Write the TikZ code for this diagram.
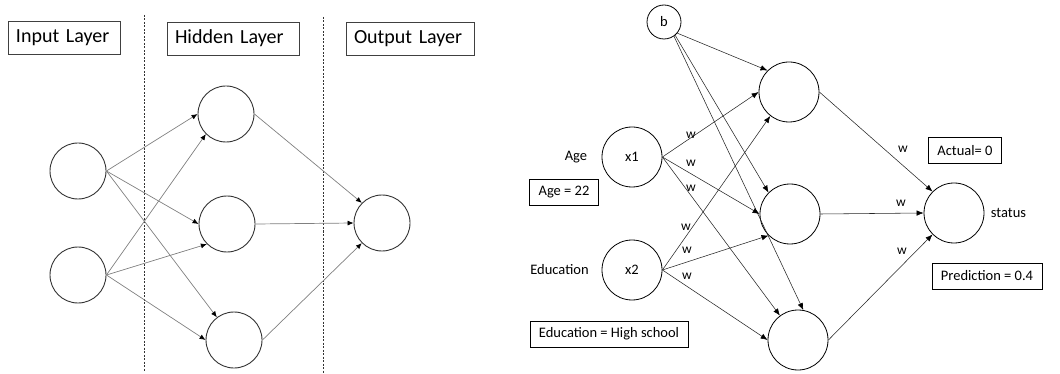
\documentclass[tikz,border=0pt]{standalone}
\usepackage{fontspec}
\setmainfont{Carlito}
\usetikzlibrary{arrows.meta}
\begin{document}
\begin{tikzpicture}[x=1pt,y=-1pt,
  neuron/.style={circle,draw=black!80,line width=0.9pt,minimum size=56pt,inner sep=0pt},
  unit/.style={circle,draw=black,line width=0.8pt,minimum size=60pt,inner sep=0pt,font=\fontsize{14.5}{16}\selectfont},
  bias/.style={circle,draw=black,line width=0.8pt,minimum size=34pt,inner sep=0pt,font=\fontsize{14.5}{16}\selectfont},
  layerbox/.style={draw=black!75,line width=0.9pt,inner xsep=8pt,minimum height=33pt,align=left,font=\fontsize{20}{22}\selectfont},
  infobox/.style={draw=black,line width=0.7pt,inner xsep=9pt,minimum height=26pt,font=\fontsize{14.5}{16}\selectfont},
  lbl/.style={font=\fontsize{14.5}{16}\selectfont,inner sep=0pt},
  wlbl/.style={font=\fontsize{13.5}{15}\selectfont,inner sep=0pt},
  grayedge/.style={draw=black!50,line width=0.7pt,-{Latex[length=6pt,width=5pt,color=black]}},
  edge/.style={draw=black!85,line width=0.55pt,-{Latex[length=7pt,width=5.5pt,color=black]}},
  divider/.style={draw=black!80,line width=0.8pt,dash pattern=on 2pt off 1.5pt}
]
\useasboundingbox (0,0) rectangle (1060,374);

% ---------- generic network: three layers ----------
\node[layerbox,text width=96pt]  (lin)  at (64,37.5)  {Input Layer};
\node[layerbox,text width=116pt] (lhid) at (233,38.5) {Hidden Layer};
\node[layerbox,text width=112pt] (lout) at (410,38.5) {Output Layer};

\coordinate (d1a) at (144,15);  \coordinate (d1b) at (144,372);
\coordinate (d2a) at (323,17);  \coordinate (d2b) at (323,373);
\draw[divider] (d1a) -- (d1b);
\draw[divider] (d2a) -- (d2b);

\node[neuron] (in1) at (78,171) {};
\node[neuron] (in2) at (78,275) {};
\node[neuron] (h1) at (226,114) {};
\node[neuron] (h2) at (227,224) {};
\node[neuron] (h3) at (234,340) {};
\node[neuron] (out) at (382,223) {};

\draw[grayedge] (in1.east) -- (h1.west);
\draw[grayedge] (in1.east) -- (h2.west);
\draw[grayedge] (in1.east) -- (h3);
\draw[grayedge] (in2.east) -- (h1.south west);
\draw[grayedge] (in2.east) -- (h2.south west);
\draw[grayedge] (in2.east) -- (h3.west);
\draw[grayedge] (h1.east) -- (out.north west);
\draw[grayedge] (h2.east) -- (out.west);
\draw[grayedge] (h3.east) -- (out.south west);

% ---------- worked example with bias and weights ----------
\node[bias] (b) at (664,22) {b};
\node[unit] (x1) at (632,157) {x1};
\node[unit] (x2) at (632,270) {x2};
\node[unit] (u1) at (789,92) {};
\node[unit] (u2) at (790,214) {};
\node[unit] (u3) at (798,340) {};
\node[unit] (st) at (954,213) {};

\node[lbl] (age) at (576,157) {Age};
\node[lbl] (edu) at (559.5,270) {Education};
\node[lbl] (stl) at (1008.5,213) {status};

\node[infobox] (agev) at (564,192)   {Age = 22};
\node[infobox] (eduv) at (609,334)   {Education = High school};
\node[infobox] (act)  at (965,150.5) {Actual= 0};
\node[infobox] (pred) at (987,276)   {Prediction = 0.4};

\draw[edge] (b.-40) -- (u1.north west);
\draw[edge] (b.-50) -- (u2.north west);
\draw[edge] (b.-55) -- (u3.80);

\draw[edge] (x1.east) -- (u1.west);
\draw[edge] (x1.east) -- (u2.west);
\draw[edge] (x1.east) -- (u3);
\draw[edge] (x2.east) -- (u1.232);
\draw[edge] (x2.east) -- (u2.south west);
\draw[edge] (x2.east) -- (u3.west);

\draw[edge] (u1.east) -- (st.north west);
\draw[edge] (u2.east) -- (st.west);
\draw[edge] (u3.east) -- (st.south west);

\node[wlbl] (w1) at (691,135) {w};
\node[wlbl] (w2) at (691,163) {w};
\node[wlbl] (w3) at (691,188) {w};
\node[wlbl] (w4) at (686,227) {w};
\node[wlbl] (w5) at (687,250) {w};
\node[wlbl] (w6) at (687,276) {w};
\node[wlbl] (w7) at (903,149) {w};
\node[wlbl] (w8) at (901,203) {w};
\node[wlbl] (w9) at (902,251) {w};
\end{tikzpicture}
\end{document}
